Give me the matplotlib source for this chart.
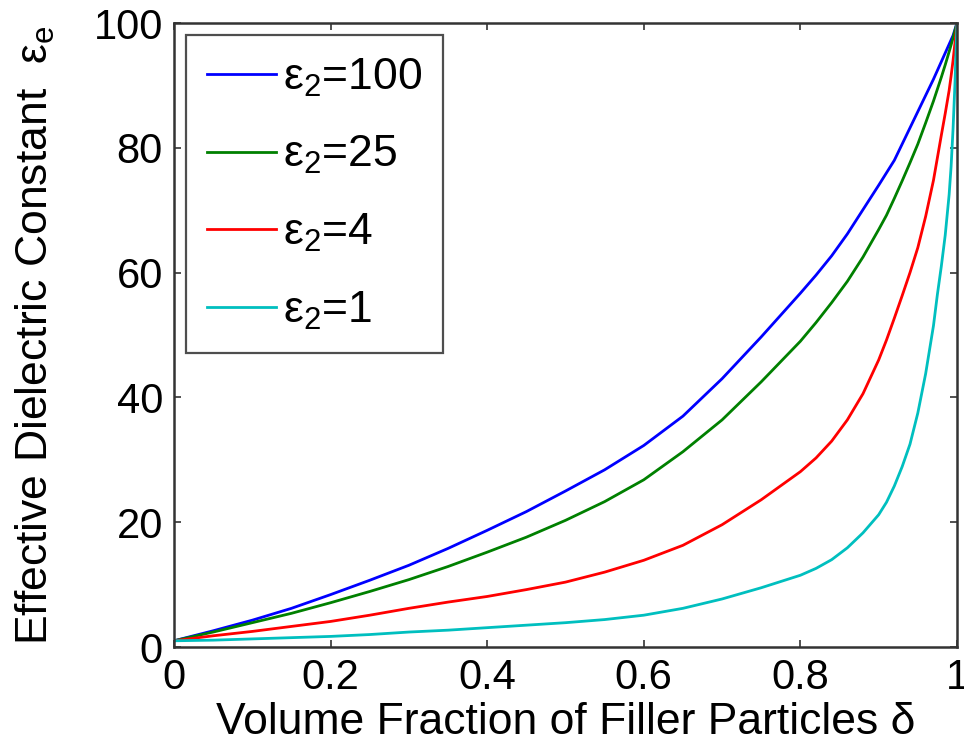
import matplotlib
matplotlib.use("Agg")
import matplotlib.pyplot as plt

plt.rcParams['font.family'] = ['Liberation Sans', 'DejaVu Sans']
plt.rcParams['mathtext.fontset'] = 'custom'
plt.rcParams['mathtext.rm'] = 'Liberation Sans'
plt.rcParams['mathtext.it'] = 'Liberation Sans'

# volume fraction of filler particles (x)
delta = [0.0, 0.05, 0.1, 0.15, 0.2, 0.25, 0.3, 0.35, 0.4, 0.45, 0.5, 0.55,
         0.6, 0.65, 0.7, 0.75, 0.8, 0.82, 0.84, 0.86, 0.88, 0.9, 0.91, 0.92,
         0.93, 0.94, 0.95, 0.96, 0.97, 0.975, 0.98, 0.985, 0.99, 0.9925,
         0.995, 0.9975, 1.0]

# effective dielectric constant
eps_100 = [1.0, 2.6, 4.3, 6.2, 8.4, 10.7, 13.1, 15.8, 18.7, 21.7, 25.0, 28.4,
           32.3, 37.0, 43.0, 49.7, 56.7, 59.6, 62.7, 66.2, 70.1, 74.0, 76.0,
           78.0, 80.6, 83.2, 85.8, 88.4, 91.0, 92.4, 93.8, 95.2, 96.6, 97.3,
           98.0, 99.0, 100.0]
eps_25 = [1.0, 2.4, 3.9, 5.4, 7.1, 8.9, 10.8, 12.9, 15.2, 17.6, 20.3, 23.3,
          26.8, 31.3, 36.4, 42.5, 49.0, 52.0, 55.2, 58.6, 62.5, 66.9, 69.2,
          71.9, 74.7, 77.6, 80.6, 84.0, 87.5, 89.4, 91.3, 93.3, 95.4, 96.5,
          97.6, 98.8, 100.0]
eps_4 = [1.0, 1.8, 2.5, 3.3, 4.1, 5.1, 6.2, 7.2, 8.1, 9.2, 10.4, 12.0,
         13.9, 16.3, 19.6, 23.6, 28.1, 30.3, 33.0, 36.4, 40.6, 46.0, 49.2,
         52.7, 56.3, 60.0, 64.0, 69.0, 74.8, 78.4, 82.0, 85.5, 89.2, 91.5,
         94.0, 96.9, 100.0]
eps_1 = [1.0, 1.1, 1.3, 1.5, 1.7, 2.0, 2.4, 2.7, 3.1, 3.5, 3.9, 4.4,
         5.1, 6.2, 7.7, 9.5, 11.5, 12.6, 14.0, 15.9, 18.3, 21.2, 23.2,
         25.8, 28.9, 32.5, 37.5, 43.8, 51.5, 56.5, 61.0, 66.0, 72.5, 77.0,
         83.0, 90.5, 100.0]

series = [
    (eps_100, '#0000ff', 'ε$_2$=100'),
    (eps_25, '#008000', 'ε$_2$=25'),
    (eps_4, '#ff0000', 'ε$_2$=4'),
    (eps_1, '#00bfbf', 'ε$_2$=1'),
]

fig = plt.figure(figsize=(9.64, 7.48), dpi=100)
ax = fig.add_axes([0.1805, 0.135, 0.8122, 0.8342])

for vals, col, lab in series:
    ax.plot(delta, vals, color=col, lw=2.0, label=lab)

ax.set_xlim(0, 1)
ax.set_ylim(0, 100)
ax.set_xticks([0, 0.2, 0.4, 0.6, 0.8, 1])
ax.set_xticklabels(['0', '0.2', '0.4', '0.6', '0.8', '1'])
ax.set_yticks([0, 20, 40, 60, 80, 100])
ax.tick_params(direction='in', top=True, right=True, length=5, width=1.2,
               labelsize=30, pad=8, color='#333333')
for sp in ax.spines.values():
    sp.set_linewidth(1.8)
    sp.set_color('#333333')

ax.set_xlabel('Volume Fraction of Filler Particles δ', fontsize=32, labelpad=3)
ax.set_ylabel('Effective Dielectric Constant  ε$_e$', fontsize=32, labelpad=26)

leg = ax.legend(loc='upper left', fontsize=32, frameon=True, fancybox=False,
                handlelength=1.55, handletextpad=0.15, labelspacing=0.8,
                borderaxespad=0.27, borderpad=0.48)
leg.get_frame().set_edgecolor('#222222')
leg.get_frame().set_linewidth(1.6)

fig.savefig('out.png', dpi=100)
